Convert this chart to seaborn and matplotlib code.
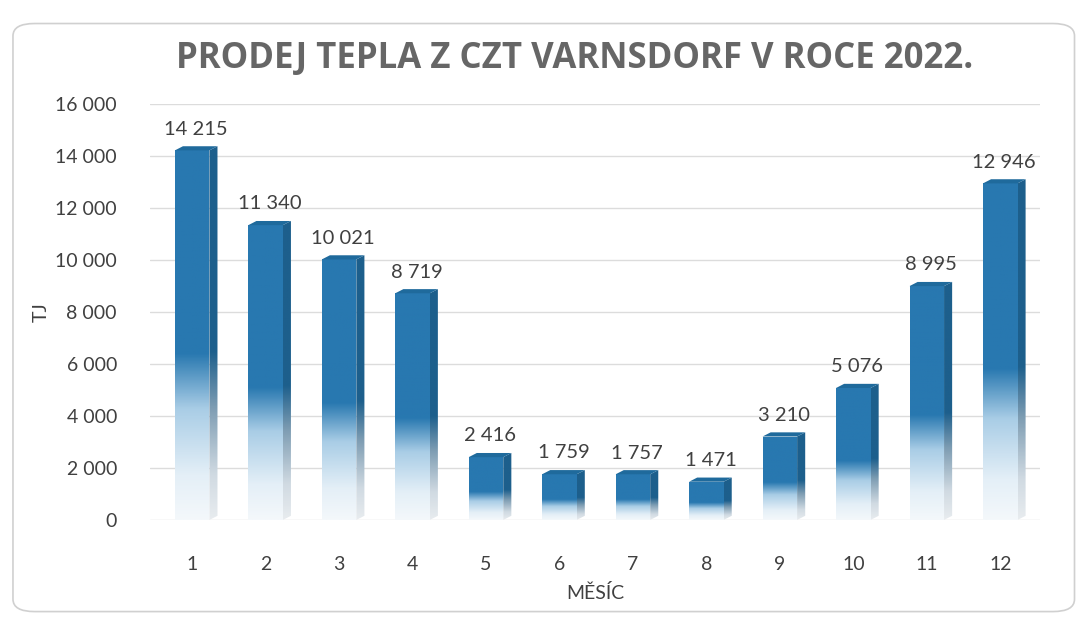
import numpy as np
import pandas as pd
import matplotlib.pyplot as plt
import seaborn as sns
from matplotlib.colors import LinearSegmentedColormap
from matplotlib.patches import Polygon, FancyBboxPatch
from matplotlib.ticker import FuncFormatter

# Data
months = [1, 2, 3, 4, 5, 6, 7, 8, 9, 10, 11, 12]
heat_tj = [14215, 11340, 10021, 8719, 2416, 1759, 1757, 1471, 3210, 5076, 8995, 12946]
y_ticks = [0, 2000, 4000, 6000, 8000, 10000, 12000, 14000, 16000]

title = 'PRODEJ TEPLA Z CZT VARNSDORF V ROCE 2022.'
x_label = 'MĚSÍC'
y_label = 'TJ'

df = pd.DataFrame({'month': months, 'tj': heat_tj})


def cz(v):
    return f'{int(v):,}'.replace(',', ' ')


sns.set_theme(style='white')
plt.rcParams['font.family'] = ['Lato', 'DejaVu Sans']
text_col = '#404040'

fig = plt.figure(figsize=(10.81, 6.19), dpi=100)
fig.patch.set_facecolor('white')
ax = fig.add_axes([0.139, 0.16, 0.823, 0.672])

# rounded chart frame
frame = FancyBboxPatch((0.012, 0.012), 0.982, 0.95, boxstyle='round,pad=0,rounding_size=0.02',
                       transform=fig.transFigure, fill=False, edgecolor='#d0d0d0', linewidth=1.2)
fig.patches.append(frame)

sns.barplot(data=df, x='month', y='tj', ax=ax, color='#2878b0', width=0.47, zorder=3)

ax.set_ylim(0, 16000)
ax.set_xlim(-0.57, 11.54)
ax.set_yticks(y_ticks)
ax.yaxis.set_major_formatter(FuncFormatter(lambda v, p: cz(v)))
for y in y_ticks:
    ax.axhline(y, color='#dcdcdc', linewidth=1.0, zorder=1)
sns.despine(ax=ax, left=True, bottom=True)
ax.tick_params(axis='y', length=0, pad=24, labelsize=14, labelcolor=text_col)
ax.tick_params(axis='x', length=0, pad=26, labelsize=14, labelcolor=text_col)
ax.set_xlabel(x_label, fontsize=14, color=text_col, labelpad=8)
ax.set_ylabel(y_label, fontsize=14, color=text_col, labelpad=4)

front_cmap = LinearSegmentedColormap.from_list(
    'front', [(0, '#f4f8fb'), (0.12, '#e4eff7'), (0.3, '#a9cde6'), (0.45, '#2878b0'), (1, '#2878b0')])
side_cmap = LinearSegmentedColormap.from_list(
    'side', [(0, '#e8ecef'), (0.12, '#d0dae2'), (0.3, '#7e9db3'), (0.45, '#1d5f8c'), (1, '#1d5f8c')])
grad = np.linspace(0, 1, 256).reshape(-1, 1)

dx = 0.11   # depth of the 3D side in x units
dy = 160    # depth of the 3D top in y units

for bar, val in zip(ax.patches, heat_tj):
    x0, w, h = bar.get_x(), bar.get_width(), bar.get_height()
    bar.set_visible(False)
    # front face gradient
    im = ax.imshow(grad, cmap=front_cmap, aspect='auto', origin='lower',
                   extent=[x0, x0 + w, 0, h], zorder=3)
    poly_front = Polygon([[x0, 0], [x0 + w, 0], [x0 + w, h], [x0, h]], closed=True,
                         facecolor='none', edgecolor='none', zorder=3)
    ax.add_patch(poly_front)
    im.set_clip_path(poly_front)
    # side face
    side = Polygon([[x0 + w, 0], [x0 + w + dx, dy], [x0 + w + dx, h + dy], [x0 + w, h]],
                   closed=True, facecolor='none', edgecolor='none', zorder=3)
    ax.add_patch(side)
    ims = ax.imshow(grad, cmap=side_cmap, aspect='auto', origin='lower',
                    extent=[x0 + w, x0 + w + dx, 0, h + dy], zorder=3)
    ims.set_clip_path(side)
    # top face
    top = Polygon([[x0, h], [x0 + dx, h + dy], [x0 + w + dx, h + dy], [x0 + w, h]],
                  closed=True, facecolor='#1f6a9c', edgecolor='none', zorder=4)
    ax.add_patch(top)
    ax.text(x0 + w / 2 + dx / 2, h + dy + 330, cz(val), ha='center', va='bottom',
            fontsize=14.5, color=text_col)

ax.set_xlim(-0.57, 11.54)
ax.set_ylim(0, 16000)

fig.text(0.532, 0.905, title, ha='center', va='center', fontsize=25,
         fontweight='bold', color='#666666', family=['Open Sans', 'DejaVu Sans'])

plt.savefig('out.png', dpi=100)
